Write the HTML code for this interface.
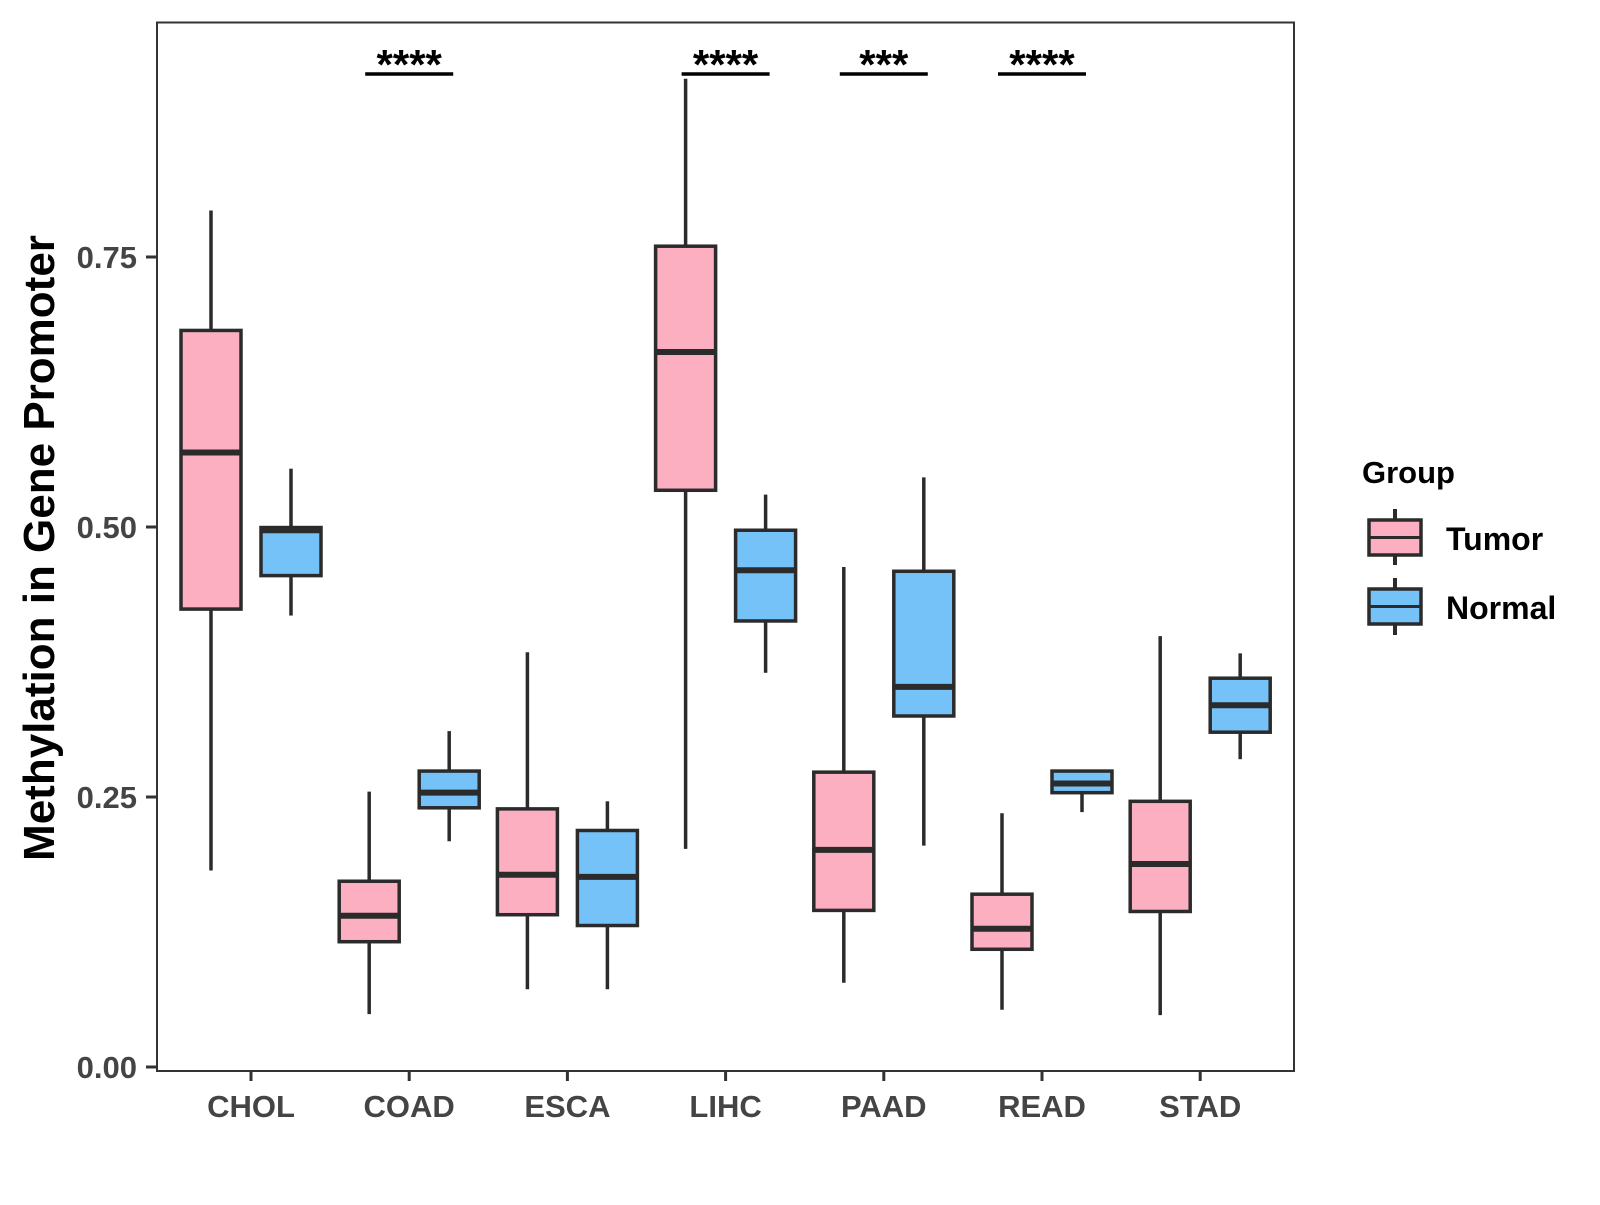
<!DOCTYPE html>
<html><head><meta charset="utf-8"><style>
body{margin:0;background:#fff}
svg text{font-family:"Liberation Sans",Arial,sans-serif;font-weight:bold}
</style></head><body>
<svg id="chart" width="1600" height="1200" xmlns="http://www.w3.org/2000/svg">
<rect x="0" y="0" width="1600" height="1200" fill="#fff"/>
<g id="marks"></g>
<rect x="157" y="22.5" width="1137" height="1048.5" fill="none" stroke="#333" stroke-width="2"/>
<g id="axes"></g>
<text x="0" y="0" transform="translate(54,548) rotate(-90)" text-anchor="middle" font-size="44" fill="#000">Methylation in Gene Promoter</text>
<g>
<text x="1362" y="483" font-size="31" fill="#000">Group</text>
<g>
<line x1="1395" y1="509" x2="1395" y2="565" stroke="#2b2b2b" stroke-width="4"/>
<rect x="1369" y="520" width="52" height="35" fill="#fbafc1" stroke="#2b2b2b" stroke-width="3.5"/>
<line x1="1369" y1="537.5" x2="1421" y2="537.5" stroke="#2b2b2b" stroke-width="3"/>
<text x="1446" y="550" font-size="32" fill="#000">Tumor</text>
</g>
<g>
<line x1="1395" y1="578" x2="1395" y2="635" stroke="#2b2b2b" stroke-width="4"/>
<rect x="1369" y="589" width="52" height="35" fill="#75c2f8" stroke="#2b2b2b" stroke-width="3.5"/>
<line x1="1369" y1="606.5" x2="1421" y2="606.5" stroke="#2b2b2b" stroke-width="3"/>
<text x="1446" y="619" font-size="32" fill="#000">Normal</text>
</g>
</g>
</svg>
<script>
const categories=["CHOL","COAD","ESCA","LIHC","PAAD","READ","STAD"];
const tumorLow=[0.182,0.049,0.072,0.202,0.078,0.053,0.048];
const tumorQ1=[0.424,0.116,0.141,0.534,0.145,0.109,0.144];
const tumorMed=[0.569,0.140,0.178,0.662,0.201,0.128,0.188];
const tumorQ3=[0.682,0.172,0.239,0.760,0.273,0.160,0.246];
const tumorHigh=[0.793,0.255,0.384,0.915,0.463,0.235,0.399];
const normalLow=[0.418,0.209,0.072,0.365,0.205,0.236,0.285];
const normalQ1=[0.455,0.240,0.131,0.413,0.325,0.254,0.310];
const normalMed=[0.497,0.254,0.176,0.460,0.352,0.2625,0.335];
const normalQ3=[0.4995,0.274,0.219,0.497,0.459,0.274,0.360];
const normalHigh=[0.554,0.311,0.246,0.530,0.546,0.274,0.383];
const yTicks=[0,0.25,0.5,0.75];
const yTickLabels=["0.00","0.25","0.50","0.75"];
const sigLabels=["","****","","****","***","****",""];

const NS="http://www.w3.org/2000/svg";
const yScale=v=>1067-v*1080;
const xScale=i=>251+i*158.2;
const BW=60, OFF=40;
function el(tag,attrs,parent){const e=document.createElementNS(NS,tag);for(const k in attrs)e.setAttribute(k,attrs[k]);parent.appendChild(e);return e;}
const marks=document.getElementById('marks'), axes=document.getElementById('axes');

function drawBox(cx,lo,q1,md,q3,hi,fill,name){
  const g=el('g',{},marks);
  
  
  el('line',{x1:cx,x2:cx,y1:yScale(hi),y2:yScale(q3),stroke:'#2b2b2b','stroke-width':3.5},g);
  el('line',{x1:cx,x2:cx,y1:yScale(q1),y2:yScale(lo),stroke:'#2b2b2b','stroke-width':3.5},g);
  el('rect',{x:cx-BW/2,y:yScale(q3),width:BW,height:yScale(q1)-yScale(q3),fill:fill,stroke:'#2b2b2b','stroke-width':3.5},g);
  el('line',{x1:cx-BW/2,x2:cx+BW/2,y1:yScale(md),y2:yScale(md),stroke:'#2b2b2b','stroke-width':6},g);
}
categories.forEach((c,i)=>{
  const x=xScale(i);
  drawBox(x-OFF,tumorLow[i],tumorQ1[i],tumorMed[i],tumorQ3[i],tumorHigh[i],'#fbafc1','box-tumor-'+c.toLowerCase());
  drawBox(x+OFF,normalLow[i],normalQ1[i],normalMed[i],normalQ3[i],normalHigh[i],'#75c2f8','box-normal-'+c.toLowerCase());
  if(sigLabels[i]){
    const g=el('g',{},marks);
    
    
    el('line',{x1:x-44,x2:x+44,y1:74,y2:74,stroke:'#000','stroke-width':3.5},g);
    const t=el('text',{x:x,y:79,'text-anchor':'middle','font-size':42,fill:'#000'},g);
    t.textContent=sigLabels[i];
  }
  const tk=el('line',{x1:x,x2:x,y1:1071,y2:1081,stroke:'#333','stroke-width':3},axes);
  
  
  const lb=el('text',{x:x,y:1117,'text-anchor':'middle','font-size':31,fill:'#444'},axes);
  
  
  lb.textContent=c;
});
yTicks.forEach((v,i)=>{
  const y=yScale(v);
  const tk=el('line',{x1:146,x2:157,y1:y,y2:y,stroke:'#333','stroke-width':3},axes);
  
  
  const lb=el('text',{x:137,y:y+11,'text-anchor':'end','font-size':31,fill:'#444'},axes);
  
  
  lb.textContent=yTickLabels[i];
});
</script>
</body></html>
